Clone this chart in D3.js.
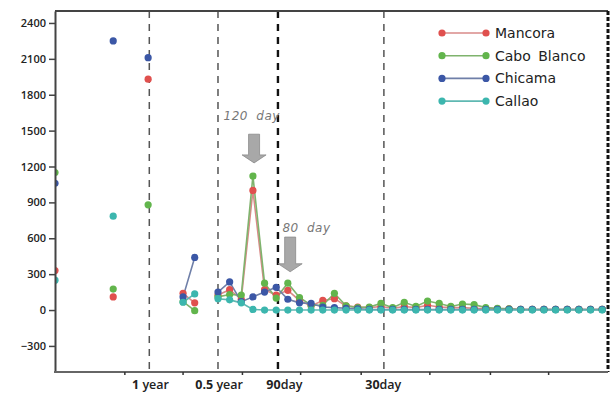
<!DOCTYPE html>
<html>
<head>
<meta charset="utf-8">
<script src="https://cdn.jsdelivr.net/npm/d3@7"></script>
<style>
  body { margin: 0; background: #fff; }
  svg { display: block; }
</style>
</head>
<body>
<svg id="chart" width="612" height="396"></svg>
<script>
'use strict';

// spectral index position of each sample (right part sampled on a regular grid)
var positions = d3.range(0, 48);

var series = ['Mancora', 'Cabo Blanco', 'Chicama', 'Callao'];
var colors = ['#e0504e', '#62b54c', '#3b57a6', '#3cb6ae'];
var lineColors = ['#d98a88', '#7fb36d', '#6f7fa8', '#5fb8b2'];

var N = null;
var mancora = [330, N, N, N, N, 110, N, N, 1930, N, N, 140, 60, N,
  125, 170, 90, 1000, 170, 125, 165, 80, 35, 80, 95, 35, 25, 20, 30, 15,
  30, 20, 40, 25, 20, 20, 15, 10, 10, 10, 5, 5, 5, 5, 5, 5, 5, 5];
var caboBlanco = [1150, N, N, N, N, 175, N, N, 880, N, N, 70, -5, N,
  110, 130, 125, 1120, 225, 100, 225, 105, 40, 40, 140, 35, 20, 25, 55, 20,
  65, 30, 75, 55, 30, 50, 45, 20, 15, 10, 5, 5, 5, 5, 5, 5, 5, 5];
var chicama = [1060, N, N, N, N, 2250, N, N, 2110, N, N, 110, 440, N,
  150, 235, 70, 110, 150, 190, 90, 60, 55, 25, 20, 15, 10, 5, 5, 5,
  5, 5, 5, 5, 5, 5, 5, 5, 5, 5, 5, 5, 5, 5, 5, 5, 5, 5];
var callao = [250, N, N, N, N, 785, N, N, N, N, N, 65, 135, N,
  95, 85, 60, 5, 0, 0, 0, 0, 0, 0, 0, 0, 0, 0, 0, 0,
  0, 0, 0, 0, 0, 0, 0, 0, 0, 0, 0, 0, 0, 0, 0, 0, 0, 0];

var yTicks = d3.range(-300, 2401, 300);

// period markers (dashed lines) and their labels
var periodLines = [8.1, 14, 19.15, 28.25];
var periodLabels = [
  {num: '1', unit: ' year', at: 8.2},
  {num: '0.5', unit: ' year', at: 14.1},
  {num: '90', unit: 'day', at: 19.7},
  {num: '30', unit: 'day', at: 28.2}
];
var minorTicks = [6, 11, 16.1, 21.1, 26.3, 32.2, 37.4, 42.4];

var annotations = [
  {text: '120 day', textAt: 16.9, textValue: 1590, at: 17.1, tip: 1230, top: 1470},
  {text: '80 day', textAt: 21.6, textValue: 650, at: 20.2, tip: 320, top: 610}
];

var values = [mancora, caboBlanco, chicama, callao];

var pLeft = 55, pRight = 608, pTop = 11, pBottom = 372;

var x = d3.scaleLinear().domain([0, 47.5]).range([pLeft, pRight]);
var y = d3.scaleLinear().domain([-518, 2500]).range([pBottom, pTop]);

var svg = d3.select('#chart');

svg.append('clipPath').attr('id', 'plot-clip')
  .append('rect')
  .attr('x', pLeft).attr('y', pTop)
  .attr('width', pRight - pLeft).attr('height', pBottom - pTop);

// dashed period lines
svg.selectAll('.period')
  .data(periodLines)
  .enter().append('line')
  .attr('x1', function (d) { return x(d); })
  .attr('x2', function (d) { return x(d); })
  .attr('y1', pTop).attr('y2', pBottom)
  .style('stroke', function (d, i) { return i === 2 ? '#111' : '#555'; })
  .style('stroke-width', function (d, i) { return i === 2 ? 2.4 : 1.5; })
  .style('stroke-dasharray', '7,6');

// frame
svg.append('line')
  .attr('x1', pLeft).attr('x2', pRight).attr('y1', pTop).attr('y2', pTop)
  .style('stroke', '#444').style('stroke-width', 2);
svg.append('line')
  .attr('x1', pRight).attr('x2', pRight).attr('y1', pTop).attr('y2', pBottom)
  .style('stroke', '#111').style('stroke-width', 3)
  .style('stroke-dasharray', '4,2');

// series
var plot = svg.append('g').attr('clip-path', 'url(#plot-clip)');

var line = d3.line()
  .defined(function (d) { return d !== null; })
  .x(function (d, i) { return x(positions[i]); })
  .y(function (d) { return y(d); });

series.forEach(function (name, s) {
  plot.append('path')
    .datum(values[s])
    .attr('d', line)
    .style('fill', 'none')
    .style('stroke', lineColors[s])
    .style('stroke-width', 1.6);
});

series.forEach(function (name, s) {
  var pts = values[s].map(function (v, i) { return {v: v, p: positions[i]}; })
    .filter(function (d) { return d.v !== null; });
  plot.selectAll('.dot' + s)
    .data(pts)
    .enter().append('circle')
    .attr('cx', function (d) { return x(d.p); })
    .attr('cy', function (d) { return y(d.v); })
    .attr('r', 3.6)
    .style('fill', colors[s]);
});

// y axis
var yAxis = svg.append('g')
  .attr('transform', 'translate(' + pLeft + ',0)')
  .call(d3.axisLeft(y).tickValues(yTicks).tickFormat(d3.format('d'))
    .tickSize(6).tickPadding(3).tickSizeOuter(0));
yAxis.select('.domain').style('stroke', '#444').style('stroke-width', 2);
yAxis.selectAll('.tick line').style('stroke', '#444').style('stroke-width', 1.5);
yAxis.selectAll('.tick text')
  .style('font', '600 11px "Open Sans", sans-serif')
  .style('fill', '#222');

// x axis
svg.append('line')
  .attr('x1', pLeft - 1).attr('x2', pRight).attr('y1', pBottom).attr('y2', pBottom)
  .style('stroke', '#666').style('stroke-width', 2);
svg.selectAll('.minor')
  .data(minorTicks)
  .enter().append('line')
  .attr('x1', function (d) { return x(d); })
  .attr('x2', function (d) { return x(d); })
  .attr('y1', pBottom).attr('y2', pBottom + 3)
  .style('stroke', '#333').style('stroke-width', 1.5);

var lab = svg.selectAll('.plabel')
  .data(periodLabels)
  .enter().append('text')
  .attr('x', function (d) { return x(d.at); })
  .attr('y', 389)
  .attr('text-anchor', 'middle')
  .style('font', '12.5px "Open Sans", sans-serif')
  .style('fill', '#222');
lab.append('tspan').style('font-weight', 700).text(function (d) { return d.num; });
lab.append('tspan').style('font-weight', 600).text(function (d) { return d.unit; });

// annotations: label and block arrow
annotations.forEach(function (a) {
  var cx = x(a.at);
  svg.append('text')
    .attr('x', x(a.textAt)).attr('y', y(a.textValue))
    .attr('text-anchor', 'middle')
    .style('font', 'italic 12px "DejaVu Sans", sans-serif')
    .style('letter-spacing', '0.5px')
    .style('word-spacing', '4px')
    .style('fill', '#777')
    .text(a.text);
  var yt = y(a.top), yh = y(a.tip) - 8, yp = y(a.tip);
  svg.append('path')
    .attr('d', 'M' + (cx - 5.5) + ',' + yt + 'L' + (cx + 5.5) + ',' + yt +
      'L' + (cx + 5.5) + ',' + yh + 'L' + (cx + 12) + ',' + yh +
      'L' + cx + ',' + yp + 'L' + (cx - 12) + ',' + yh +
      'L' + (cx - 5.5) + ',' + yh + 'Z')
    .style('fill', '#a8a8a8')
    .style('stroke', '#8a8a8a')
    .style('stroke-width', 0.8);
});

// legend
var legend = svg.append('g').attr('transform', 'translate(442,33)');
var item = legend.selectAll('g')
  .data(series)
  .enter().append('g')
  .attr('transform', function (d, i) { return 'translate(0,' + i * 22.7 + ')'; });
item.append('line')
  .attr('x1', 0).attr('x2', 44)
  .style('stroke', function (d, i) { return lineColors[i]; })
  .style('stroke-width', 1.6);
item.selectAll('circle')
  .data(function (d, i) { return [i, i]; })
  .enter().append('circle')
  .attr('cx', function (d, j) { return j * 44; })
  .attr('r', 3.6)
  .style('fill', function (d) { return colors[d]; });
item.append('text')
  .attr('x', 53).attr('y', 5)
  .style('font', '14px "DejaVu Sans", sans-serif')
  .style('word-spacing', '3px')
  .style('fill', '#222')
  .text(function (d) { return d; });
</script>
</body>
</html>
